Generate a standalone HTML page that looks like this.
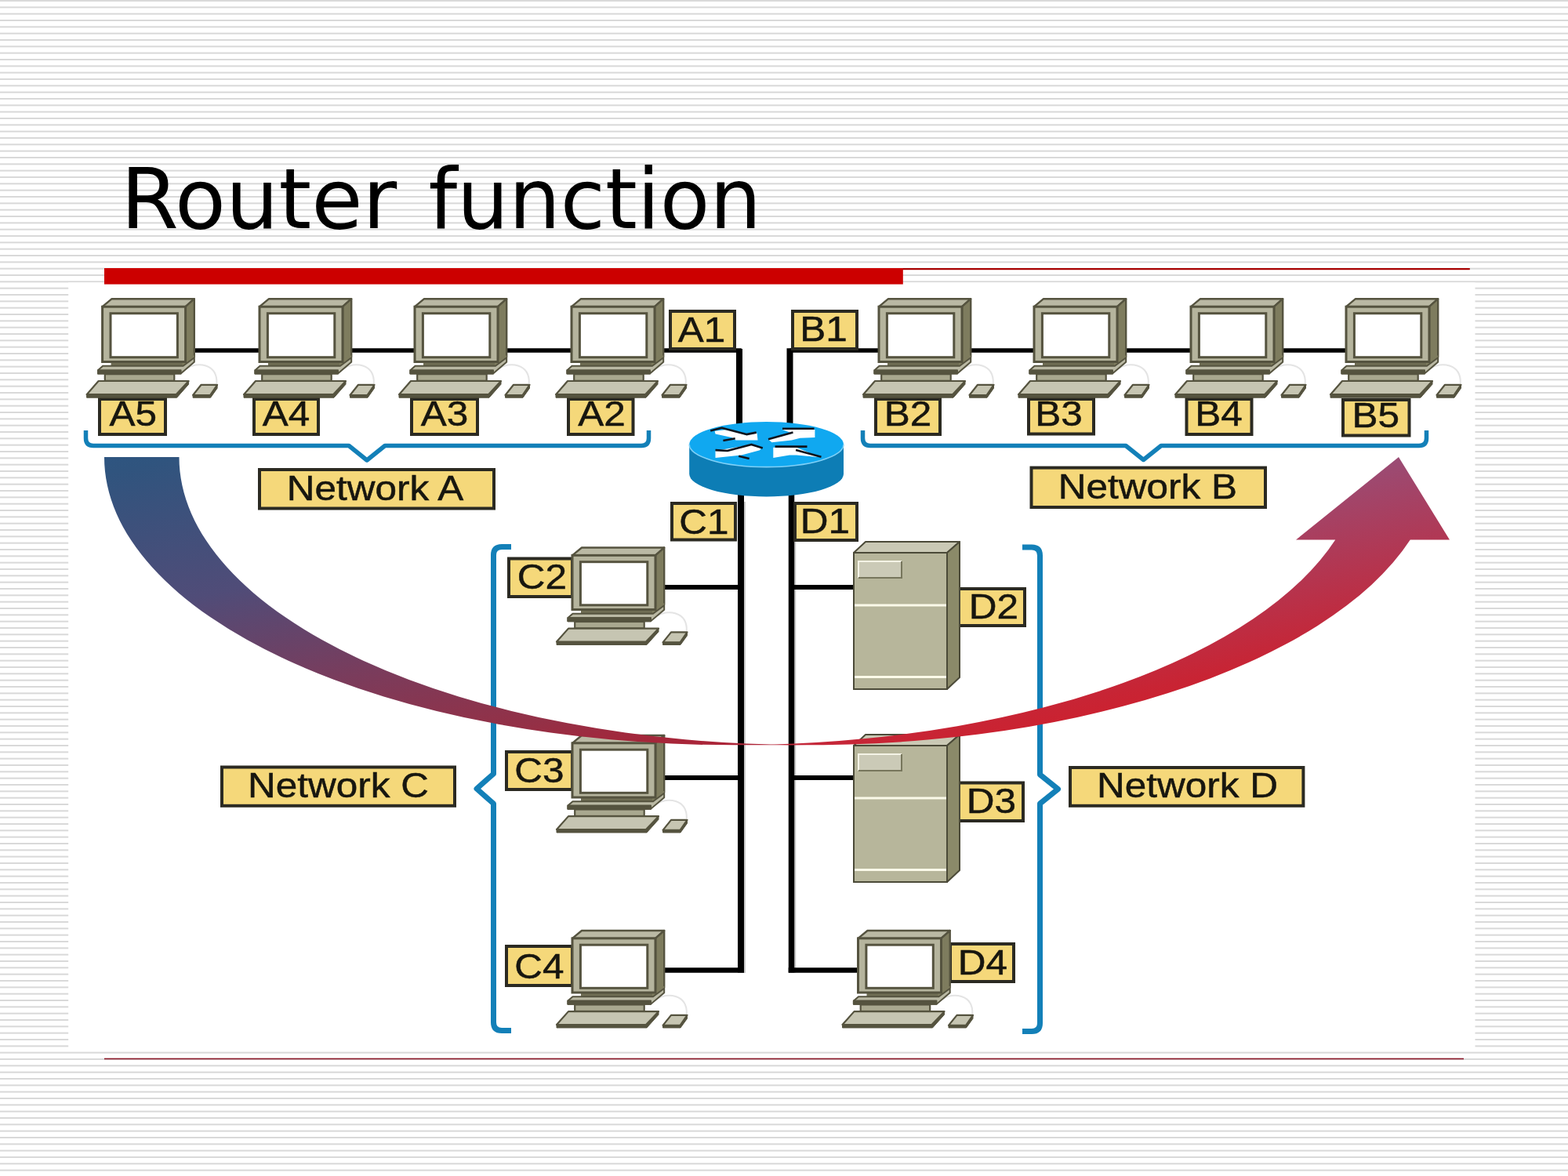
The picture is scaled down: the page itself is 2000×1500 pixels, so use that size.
<!DOCTYPE html>
<html lang="en">
<head>
<meta charset="utf-8">
<title>Router function</title>
<style>
html,body{margin:0;padding:0;background:#fff;}
body{width:2000px;height:1500px;overflow:hidden;position:relative;font-family:"Liberation Sans",sans-serif;}
#slide{position:absolute;left:0;top:0;width:2000px;height:1500px;display:block;}
text{font-family:"Liberation Sans",sans-serif;}
.ttl{font-family:"DejaVu Sans","Liberation Sans",sans-serif;}
</style>
</head>
<body>
<svg id="slide" width="2000" height="1500" viewBox="0 0 2000 1500">
<defs>
<pattern id="stripes" x="0" y="0" width="2000" height="25" patternUnits="userSpaceOnUse">
<rect x="0" y="0" width="2000" height="25" fill="#ffffff"/>
<rect x="0" y="0" width="2000" height="2" fill="#d9d9d9"/>
<rect x="0" y="8.33" width="2000" height="2" fill="#d9d9d9"/>
<rect x="0" y="16.67" width="2000" height="2" fill="#d9d9d9"/>
</pattern>
<linearGradient id="agL" gradientUnits="userSpaceOnUse" x1="133" y1="583" x2="280.8" y2="1287">
<stop offset="0" stop-color="rgb(46,85,128)"/>
<stop offset="0.03" stop-color="rgb(48,84,126)"/>
<stop offset="0.277" stop-color="rgb(80,76,120)"/>
<stop offset="0.47" stop-color="rgb(122,60,92)"/>
<stop offset="0.62" stop-color="rgb(148,48,70)"/>
<stop offset="0.69" stop-color="rgb(165,38,58)"/>
<stop offset="0.76" stop-color="rgb(178,36,54)"/>
</linearGradient>
<linearGradient id="agR" gradientUnits="userSpaceOnUse" x1="133" y1="583" x2="280.8" y2="1287">
<stop offset="0.40" stop-color="rgb(143,84,130)"/>
<stop offset="0.48" stop-color="rgb(155,75,115)"/>
<stop offset="0.78" stop-color="rgb(200,36,52)"/>
<stop offset="0.90" stop-color="rgb(214,26,36)"/>
</linearGradient>
<g id="pc">
<path d="M108,88.5 C120,80 147,82 145.8,108" fill="none" stroke="#e4e4e4" stroke-width="2"/>
<polygon points="0,10 12,0 117.2,0 106,10" fill="#bab9a4" stroke="#55533f" stroke-width="2.4" stroke-linejoin="round"/>
<polygon points="106,10 117.2,0 117.2,74 106,80.3" fill="#7e7c5e" stroke="#55533f" stroke-width="2.4" stroke-linejoin="round"/>
<polygon points="100,79 117.2,72 117.2,80.5 100,95.4" fill="#7e7c5e"/>
<rect x="11" y="80" width="91" height="6" fill="#6f6d54"/>
<polygon points="-5.6,91 0.5,85.6 103,85.6 117.2,75 117.2,80.5 100,95.4 -5.6,95.4" fill="#bab9a4" stroke="#55533f" stroke-width="2" stroke-linejoin="round"/>
<polygon points="-5.6,91 100,91 100,95.4 -5.6,95.4" fill="#55533f" stroke="#55533f" stroke-width="2" stroke-linejoin="round"/>
<rect x="0" y="10" width="106" height="70.3" fill="#b5b49d" stroke="#55533f" stroke-width="3"/>
<rect x="10.4" y="18.5" width="85.4" height="56" fill="#ffffff" stroke="#55533f" stroke-width="3"/>
<rect x="3.2" y="96" width="88.5" height="8.6" fill="#a9a88f" stroke="#55533f" stroke-width="2.2"/>
<polygon points="-20,122 -5,104.8 110,104.8 94,122" fill="#c6c5b2" stroke="#55533f" stroke-width="2.2" stroke-linejoin="round"/>
<polygon points="-20,122 94,122 110,104.8 110,109 95,126 -20,126" fill="#55533f" stroke="#55533f" stroke-width="1" stroke-linejoin="round"/>
<polygon points="115.5,122.8 126,109.6 146.5,109.6 137.5,122.8" fill="#c6c5b2" stroke="#55533f" stroke-width="2.2" stroke-linejoin="round"/>
<polygon points="115.5,122.8 137.5,122.8 146.5,109.6 146.5,114 138,126 115.5,126" fill="#55533f" stroke="#55533f" stroke-width="1" stroke-linejoin="round"/>
</g>
<filter id="soft" x="-2%" y="-2%" width="104%" height="104%" color-interpolation-filters="sRGB"><feGaussianBlur stdDeviation="0.7"/></filter>
<g id="srv">
<polygon points="0,14 15,0 135,0 119,14" fill="#cac9b5" stroke="#4b4a38" stroke-width="2" stroke-linejoin="round"/>
<polygon points="119,14 135,0 135,173 119,188" fill="#8b8a69" stroke="#4b4a38" stroke-width="2" stroke-linejoin="round"/>
<rect x="0" y="14" width="119" height="174" fill="#b7b69b" stroke="#4b4a38" stroke-width="2"/>
<rect x="6" y="25" width="55" height="21" fill="#cbcab7"/>
<path d="M6,46 V25 H61" fill="none" stroke="#f4f3e6" stroke-width="2"/>
<path d="M6,46 H61 V25" fill="none" stroke="#77765c" stroke-width="2"/>
<rect x="1" y="79.5" width="117" height="3" fill="#fbfae9"/>
<rect x="1" y="171" width="117" height="3" fill="#fbfae9"/>
</g>
</defs>

<rect x="0" y="-7.33" width="2000" height="1520" fill="url(#stripes)" transform="translate(0,0)"/>
<rect x="87.2" y="360.3" width="1794.3" height="977.2" fill="#ffffff"/>
<text class="ttl" x="154.0" y="291.0" font-size="106.3" fill="#000">Router</text>
<text class="ttl" transform="translate(546.5,291.0) scale(0.978,1)" font-size="106.3" fill="#000">function</text>
<rect x="1150" y="342" width="724.8" height="2.2" fill="#a80000"/>
<rect x="133" y="342" width="1018.8" height="20.6" fill="#cc0000"/>
<rect x="133" y="1349.7" width="1734" height="1.6" fill="#8a1828"/>
<g id="diagram" filter="url(#soft)">
<path d="M950,640 V1241 M1014.2,640 V1241" stroke="#c9c9c9" stroke-width="2" fill="none"/>
<g stroke="#000" fill="none" stroke-linejoin="miter">
<path d="M240,447 H943 V545" stroke-width="5.5"/>
<path d="M943,445 V545" stroke-width="8"/>
<path d="M1725,447 H1007.5" stroke-width="5.5"/>
<path d="M1007.5,444.3 V545" stroke-width="8"/>
<path d="M945,625 V1240.5" stroke-width="8"/>
<path d="M1009.5,625 V1240.5" stroke-width="7.5"/>
<path d="M840,749 H945" stroke-width="6"/>
<path d="M1009.5,749 H1095" stroke-width="6"/>
<path d="M840,992 H945" stroke-width="6"/>
<path d="M1009.5,992 H1095" stroke-width="6"/>
<path d="M840,1237.5 H949" stroke-width="6.5"/>
<path d="M1005.7,1237.5 H1100" stroke-width="6.5"/>
</g>
<rect x="127.0" y="509.0" width="84.0" height="45.0" fill="#f5d87a" stroke="#2b2a22" stroke-width="4"/><text transform="translate(169.8,543.1) scale(1.125,1)" text-anchor="middle" font-size="44.0" fill="#17160f" stroke="#17160f" stroke-width="0.5">A5</text>
<rect x="324.0" y="509.0" width="82.0" height="45.0" fill="#f5d87a" stroke="#2b2a22" stroke-width="4"/><text transform="translate(365.0,543.1) scale(1.125,1)" text-anchor="middle" font-size="44.0" fill="#17160f" stroke="#17160f" stroke-width="0.5">A4</text>
<rect x="525.0" y="509.0" width="84.0" height="45.0" fill="#f5d87a" stroke="#2b2a22" stroke-width="4"/><text transform="translate(567.0,543.1) scale(1.125,1)" text-anchor="middle" font-size="44.0" fill="#17160f" stroke="#17160f" stroke-width="0.5">A3</text>
<rect x="725.0" y="509.0" width="82.5" height="45.0" fill="#f5d87a" stroke="#2b2a22" stroke-width="4"/><text transform="translate(767.5,543.1) scale(1.125,1)" text-anchor="middle" font-size="44.0" fill="#17160f" stroke="#17160f" stroke-width="0.5">A2</text>
<rect x="855.0" y="397.0" width="82.0" height="48.0" fill="#f5d87a" stroke="#2b2a22" stroke-width="4"/><text transform="translate(895.0,436.1) scale(1.125,1)" text-anchor="middle" font-size="44.0" fill="#17160f" stroke="#17160f" stroke-width="0.5">A1</text>
<rect x="1011.0" y="397.0" width="82.0" height="48.0" fill="#f5d87a" stroke="#2b2a22" stroke-width="4"/><text transform="translate(1050.5,435.3) scale(1.125,1)" text-anchor="middle" font-size="44.0" fill="#17160f" stroke="#17160f" stroke-width="0.5">B1</text>
<rect x="1117.0" y="509.0" width="82.0" height="45.0" fill="#f5d87a" stroke="#2b2a22" stroke-width="4"/><text transform="translate(1158.0,543.1) scale(1.125,1)" text-anchor="middle" font-size="44.0" fill="#17160f" stroke="#17160f" stroke-width="0.5">B2</text>
<rect x="1312.0" y="509.0" width="83.0" height="44.5" fill="#f5d87a" stroke="#2b2a22" stroke-width="4"/><text transform="translate(1350.5,542.8) scale(1.125,1)" text-anchor="middle" font-size="44.0" fill="#17160f" stroke="#17160f" stroke-width="0.5">B3</text>
<rect x="1513.5" y="509.0" width="83.0" height="45.0" fill="#f5d87a" stroke="#2b2a22" stroke-width="4"/><text transform="translate(1554.5,543.1) scale(1.125,1)" text-anchor="middle" font-size="44.0" fill="#17160f" stroke="#17160f" stroke-width="0.5">B4</text>
<rect x="1713.0" y="510.0" width="84.5" height="45.5" fill="#f5d87a" stroke="#2b2a22" stroke-width="4"/><text transform="translate(1754.8,544.6) scale(1.125,1)" text-anchor="middle" font-size="44.0" fill="#17160f" stroke="#17160f" stroke-width="0.5">B5</text>
<rect x="857.0" y="642.0" width="81.0" height="46.5" fill="#f5d87a" stroke="#2b2a22" stroke-width="4"/><text transform="translate(898.0,680.8) scale(1.125,1)" text-anchor="middle" font-size="44.0" fill="#17160f" stroke="#17160f" stroke-width="0.5">C1</text>
<rect x="1014.0" y="642.0" width="79.0" height="47.0" fill="#f5d87a" stroke="#2b2a22" stroke-width="4"/><text transform="translate(1052.5,680.1) scale(1.125,1)" text-anchor="middle" font-size="44.0" fill="#17160f" stroke="#17160f" stroke-width="0.5">D1</text>
<rect x="649.0" y="712.5" width="81.0" height="48.5" fill="#f5d87a" stroke="#2b2a22" stroke-width="4"/><text transform="translate(691.5,750.7) scale(1.125,1)" text-anchor="middle" font-size="44.0" fill="#17160f" stroke="#17160f" stroke-width="0.5">C2</text>
<rect x="646.0" y="959.0" width="84.0" height="48.0" fill="#f5d87a" stroke="#2b2a22" stroke-width="4"/><text transform="translate(688.0,998.1) scale(1.125,1)" text-anchor="middle" font-size="44.0" fill="#17160f" stroke="#17160f" stroke-width="0.5">C3</text>
<rect x="646.0" y="1207.0" width="84.0" height="50.0" fill="#f5d87a" stroke="#2b2a22" stroke-width="4"/><text transform="translate(688.0,1247.6) scale(1.125,1)" text-anchor="middle" font-size="44.0" fill="#17160f" stroke="#17160f" stroke-width="0.5">C4</text>
<rect x="1223.0" y="751.0" width="84.0" height="47.0" fill="#f5d87a" stroke="#2b2a22" stroke-width="4"/><text transform="translate(1267.5,789.1) scale(1.125,1)" text-anchor="middle" font-size="44.0" fill="#17160f" stroke="#17160f" stroke-width="0.5">D2</text>
<rect x="1223.0" y="998.5" width="82.0" height="48.5" fill="#f5d87a" stroke="#2b2a22" stroke-width="4"/><text transform="translate(1264.5,1037.3) scale(1.125,1)" text-anchor="middle" font-size="44.0" fill="#17160f" stroke="#17160f" stroke-width="0.5">D3</text>
<rect x="1212.0" y="1204.0" width="81.0" height="48.0" fill="#f5d87a" stroke="#2b2a22" stroke-width="4"/><text transform="translate(1253.5,1242.6) scale(1.125,1)" text-anchor="middle" font-size="44.0" fill="#17160f" stroke="#17160f" stroke-width="0.5">D4</text>
<rect x="331.0" y="599.0" width="299.0" height="49.5" fill="#f5d87a" stroke="#2b2a22" stroke-width="4"/><text transform="translate(478.5,637.9) scale(1.125,1)" text-anchor="middle" font-size="44.0" fill="#17160f" stroke="#17160f" stroke-width="0.5">Network A</text>
<rect x="1315.5" y="596.6" width="298.5" height="50.4" fill="#f5d87a" stroke="#2b2a22" stroke-width="4"/><text transform="translate(1463.8,636.1) scale(1.125,1)" text-anchor="middle" font-size="44.0" fill="#17160f" stroke="#17160f" stroke-width="0.5">Network B</text>
<rect x="283.0" y="978.5" width="297.0" height="49.3" fill="#f5d87a" stroke="#2b2a22" stroke-width="4"/><text transform="translate(431.5,1017.1) scale(1.125,1)" text-anchor="middle" font-size="44.0" fill="#17160f" stroke="#17160f" stroke-width="0.5">Network C</text>
<rect x="1365.0" y="979.0" width="297.4" height="48.8" fill="#f5d87a" stroke="#2b2a22" stroke-width="4"/><text transform="translate(1514.5,1016.9) scale(1.125,1)" text-anchor="middle" font-size="44.0" fill="#17160f" stroke="#17160f" stroke-width="0.5">Network D</text>
<use href="#pc" transform="translate(130.6,381.2) scale(1,1.0)"/>
<use href="#pc" transform="translate(331.0,381.2) scale(1,1.0)"/>
<use href="#pc" transform="translate(529.0,381.2) scale(1,1.0)"/>
<use href="#pc" transform="translate(729.0,381.2) scale(1,1.0)"/>
<use href="#pc" transform="translate(1121.0,381.2) scale(1,1.0)"/>
<use href="#pc" transform="translate(1319.0,381.2) scale(1,1.0)"/>
<use href="#pc" transform="translate(1519.0,381.2) scale(1,1.0)"/>
<use href="#pc" transform="translate(1717.0,381.2) scale(1,1.0)"/>
<use href="#pc" transform="translate(730.0,698.5) scale(1,0.984)"/>
<use href="#pc" transform="translate(730.0,938.0) scale(1,0.984)"/>
<use href="#pc" transform="translate(730.0,1187.0) scale(1,0.984)"/>
<use href="#pc" transform="translate(1094.5,1187.0) scale(1,0.984)"/>
<use href="#srv" x="1089.0" y="691.0"/>
<use href="#srv" x="1089.0" y="937.0"/>
<g fill="none" stroke="#1380b8" stroke-width="5.5" stroke-linecap="butt" stroke-linejoin="round">
<path d="M109.5,549 V559 Q109.5,568.5 119,568.5 H445 L468,587 L491,568.5 H818 Q827.5,568.5 827.5,559 V549"/>
<path d="M1100.5,549 V559 Q1100.5,568.5 1110,568.5 H1436 L1458.5,586.5 L1481,568.5 H1810 Q1819.5,568.5 1819.5,559 V549"/>
<path d="M652,697.5 H640 Q629.5,697.5 629.5,708 V987 L608,1006 L629.5,1025 V1304 Q629.5,1314.5 640,1314.5 H652" stroke-width="7"/>
<path d="M1304,698 H1316 Q1326.5,698 1326.5,708.5 V988 L1349.5,1006.5 L1326.5,1025 V1305 Q1326.5,1315.5 1316,1315.5 H1304" stroke-width="7"/>
</g>
<path d="M879.2,566.8 V604.5999999999999 A98.4,28.8 0 0 0 1076.0,604.5999999999999 V566.8 Z" fill="#0d7db5"/>
<ellipse cx="977.6" cy="566.8" rx="98.4" ry="28.8" fill="#10a8f0"/>
<path d="M879.2,566.8 A98.4,28.8 0 0 0 1076.0,566.8" fill="none" stroke="#7fd0f7" stroke-width="1.6"/>
<g>
<polygon points="911.6,549.8 927.8,548.0 951.2,554.8 965.6,552.5 966.5,561.5 938.6,561.5 933.2,557.9 912.5,553.6" fill="#ffffff"/>
<polygon points="912.5,575.0 947.6,568.9 958.4,567.8 971.0,571.6 969.2,574.3 945.8,580.4 912.5,584.0" fill="#ffffff"/>
<polygon points="980.0,560.6 1010.6,552.7 998.0,548.0 1039.4,548.0 1039.4,557.9 1020.5,558.8 1009.7,561.5 984.5,564.2" fill="#ffffff"/>
<polygon points="986.3,570.7 1016.0,570.7 1030.4,576.8 1043.0,583.1 1016.0,580.4 1007.0,580.6 986.3,584.0" fill="#ffffff"/>
<polyline points="906.2,549.4 920.6,545.8 952.1,554.1 964.7,551.6" fill="none" stroke="#10141c" stroke-width="2.6" stroke-linejoin="round"/>
<polyline points="922.4,562.0 937.7,559.3" fill="none" stroke="#10141c" stroke-width="2.6" stroke-linejoin="round"/>
<polyline points="912.5,574.1 927.8,575.0 958.4,566.9 972.8,571.4" fill="none" stroke="#10141c" stroke-width="2.6" stroke-linejoin="round"/>
<polyline points="942.2,581.8 955.7,584.9" fill="none" stroke="#10141c" stroke-width="2.6" stroke-linejoin="round"/>
<polyline points="998.0,546.7 1038.5,546.7" fill="none" stroke="#10141c" stroke-width="2.6" stroke-linejoin="round"/>
<polyline points="980.0,560.2 1011.5,551.6" fill="none" stroke="#10141c" stroke-width="2.6" stroke-linejoin="round"/>
<polyline points="988.6,569.6 1029.5,569.6" fill="none" stroke="#10141c" stroke-width="2.6" stroke-linejoin="round"/>
<polyline points="1015.1,574.1 1047.5,582.7" fill="none" stroke="#10141c" stroke-width="2.6" stroke-linejoin="round"/>
</g>
</g>
<path fill="url(#agR)" d="M982.77,949.65 A802.02,367.30 0 0 0 1703.25,688.5 L1653.0,688.5 L1784.0,583.0 L1849.0,688.5 L1798.75,688.5 A802.02,367.30 0 0 1 982.77,949.65 Z"/>
<path fill="url(#agL)" d="M133.0,583.0 L228.5,583.0 A802.02,367.30 0 0 0 1030.52,950.30 L935.02,950.30 A802.02,367.30 0 0 1 133.0,583.0 Z"/>
</svg>
</body>
</html>
